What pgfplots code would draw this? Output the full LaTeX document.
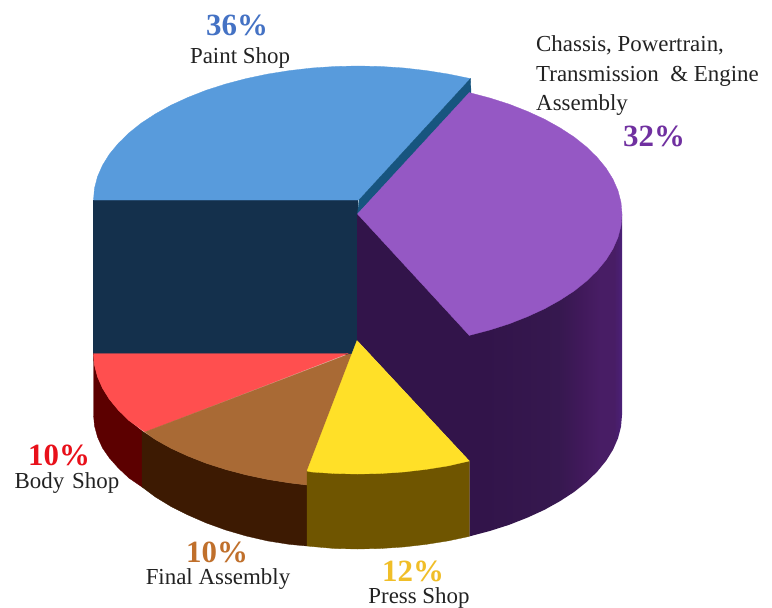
\documentclass[border=0pt]{standalone}
\usepackage{fontspec}
\setmainfont{Liberation Serif}
\usepackage{pgfplots}
\pgfplotsset{compat=1.18}
\definecolor{blueTop}{HTML}{589BDC}
\definecolor{blueSide}{HTML}{14304C}
\definecolor{blueCut}{HTML}{17557F}
\definecolor{purpleTop}{HTML}{9558C4}
\definecolor{purpleA}{HTML}{32144A}
\definecolor{purpleB}{HTML}{36184F}
\definecolor{purpleC}{HTML}{40195A}
\definecolor{purpleD}{HTML}{481D65}
\definecolor{purpleE}{HTML}{4B2078}
\definecolor{redTop}{HTML}{FF4F4F}
\definecolor{redSide}{HTML}{5C0000}
\definecolor{brownTop}{HTML}{A96A35}
\definecolor{brownSide}{HTML}{3D1A02}
\definecolor{yellowTop}{HTML}{FFE028}
\definecolor{yellowSide}{HTML}{6F5500}
\definecolor{lblBlue}{HTML}{4472C4}
\definecolor{lblPurple}{HTML}{7030A0}
\definecolor{lblRed}{HTML}{E8101A}
\definecolor{lblBrown}{HTML}{C0702C}
\definecolor{lblYellow}{HTML}{F0BE28}
\definecolor{lblText}{HTML}{222222}
% Wall of the largest slice brightens towards its right edge;
% the path's box spans the shading from 25bp to 75bp
\pgfdeclarehorizontalshading{purplewall}{100bp}{%
  color(0bp)=(purpleA); color(49bp)=(purpleA); color(63bp)=(purpleB);
  color(67bp)=(purpleC); color(71bp)=(purpleD); color(73.5bp)=(purpleD);
  color(75bp)=(purpleE); color(100bp)=(purpleE)}
\newcommand{\pct}{\fontsize{31}{31}\selectfont\bfseries}
\newcommand{\lbl}{\fontsize{23}{27}\selectfont\color{lblText}}
\begin{document}
\begin{tikzpicture}
\useasboundingbox (0,0) rectangle (772bp,608bp);
\begin{axis}[
  at={(0,0)}, anchor=south west,
  scale only axis, width=772bp, height=608bp,
  xmin=0, xmax=772, ymin=0, ymax=608, y dir=reverse,
  hide axis, clip=false, no markers,
  every axis plot/.append style={line width=0.3pt, sharp plot},
]
% Paint Shop: wall, top face and the narrow cut face
\addplot[draw=blueSide, fill=blueSide] coordinates {(93.5,200) (357.5,200) (357.5,354) (93.5,354)} --cycle;
\addplot[draw=blueTop, fill=blueTop] coordinates {(93.5,200) (94.5,188.3) (97.5,176.7) (102.5,165.3) (109.4,154.2) (118.3,143.4) (128.9,133) (141.3,123.1) (155.4,113.9) (171,105.2) (188,97.4) (206.3,90.2) (225.7,84) (246.2,78.6) (267.5,74.1) (289.5,70.6) (312.1,68) (334.9,66.5) (358,66) (381.1,66.5) (403.9,68) (426.5,70.6) (448.5,74.1) (470.5,78.6) (359,200)} --cycle;
\addplot[draw=blueCut, fill=blueCut] coordinates {(359,200) (470.5,78.6) (471,93) (357.5,214)} --cycle;

% Chassis slice: cut face and outer wall, then the top face
\addplot[shading=purplewall, draw=none] coordinates {(357.5,214) (622,214) (622,415) (621,426.7) (618,438.3) (613,449.7) (606.1,460.8) (597.2,471.6) (586.6,482) (574.2,491.9) (560.1,501.1) (544.5,509.8) (527.5,517.6) (509.2,524.8) (489.8,531) (469.3,536.4) (469.3,461) (357.5,341)} --cycle;
\addplot[draw=purpleTop, fill=purpleTop] coordinates {(357.5,214) (469.3,92.6) (489.8,98) (509.2,104.2) (527.5,111.4) (544.5,119.2) (560.1,127.9) (574.2,137.1) (586.6,147) (597.2,157.4) (606.1,168.2) (613,179.3) (618,190.7) (621,202.3) (622,214) (621,225.7) (618,237.3) (613,248.7) (606.1,259.8) (597.2,270.6) (586.6,281) (574.2,290.9) (560.1,300.1) (544.5,308.8) (527.5,316.6) (509.2,323.8) (489.8,330) (469.3,335.4)} --cycle;

% Body Shop and Final Assembly walls
\addplot[draw=redSide, fill=redSide] coordinates {(93.5,353.5) (94.5,365.2) (97.5,376.8) (102.5,388.2) (109.4,399.3) (118.3,410.1) (128.9,420.5) (142,431) (142,487) (128.9,478) (118.3,468) (109.4,458) (102.5,448) (97.5,437) (94.5,426) (93.5,415)} --cycle;
\addplot[draw=brownSide, fill=brownSide] coordinates {(142,431) (155.4,439.6) (171,448.3) (188,456.1) (206.3,463.3) (225.7,469.5) (246.2,474.9) (267.5,479.4) (289.5,482.9) (307,485) (307,546) (289.5,544.4) (267.5,540.9) (246.2,536) (225.7,530) (206.3,523) (188,515) (171,506.5) (155.4,497) (142,487)} --cycle;
% Body Shop and Final Assembly top faces
\addplot[draw=redTop, fill=redTop] coordinates {(93.5,353.5) (348,353.5) (145,432) (128.9,420.5) (118.3,410.1) (109.4,399.3) (102.5,388.2) (97.5,376.8) (94.5,365.2)} --cycle;
\addplot[draw=brownTop, fill=brownTop] coordinates {(349,354) (355,354) (307,485) (289.5,482.9) (267.5,479.4) (246.2,474.9) (225.7,469.5) (206.3,463.3) (188,456.1) (171,448.3) (155.4,439.6) (145,432)} --cycle;

% Press Shop: wall and top face
\addplot[draw=yellowSide, fill=yellowSide] coordinates {(307,471) (357.5,474) (403.4,472) (469.3,461) (469.3,536.4) (448,540.9) (426,544.4) (403.4,547) (380.6,548.5) (357.5,549) (334.4,548.5) (311.6,546.5) (307,546)} --cycle;
\addplot[draw=yellowTop, fill=yellowTop] coordinates {(357,340.5) (469.3,461) (448,465.9) (426,469.4) (403.4,472) (380.6,473.5) (357.5,474) (334.4,473.5) (311.6,472) (307,471)} --cycle;

% Percentages and slice names
\node[anchor=base, text=lblBlue, font=\pct] at (axis cs:237,36) {36\%};
\node[anchor=base, font=\lbl] at (axis cs:240,64) {Paint Shop};
\node[anchor=base west, inner sep=0pt, font=\lbl] at (axis cs:536,52) {Chassis,\ Powertrain,};
\node[anchor=base west, inner sep=0pt, font=\lbl] at (axis cs:536,82) {Transmission \ \& Engine};
\node[anchor=base west, inner sep=0pt, font=\lbl] at (axis cs:536,111) {Assembly};
\node[anchor=base, text=lblPurple, font=\pct] at (axis cs:654,146) {32\%};
\node[anchor=base, text=lblRed, font=\pct] at (axis cs:59,465) {10\%};
\node[anchor=base, font=\lbl] at (axis cs:67,488) {Body\hspace{8pt}Shop};
\node[anchor=base, text=lblBrown, font=\pct] at (axis cs:217,562) {10\%};
\node[anchor=base, font=\lbl] at (axis cs:218,584) {Final Assembly};
\node[anchor=base, text=lblYellow, font=\pct] at (axis cs:413,581) {12\%};
\node[anchor=base, font=\lbl] at (axis cs:419,603) {Press Shop};
\end{axis}
\end{tikzpicture}
\end{document}
